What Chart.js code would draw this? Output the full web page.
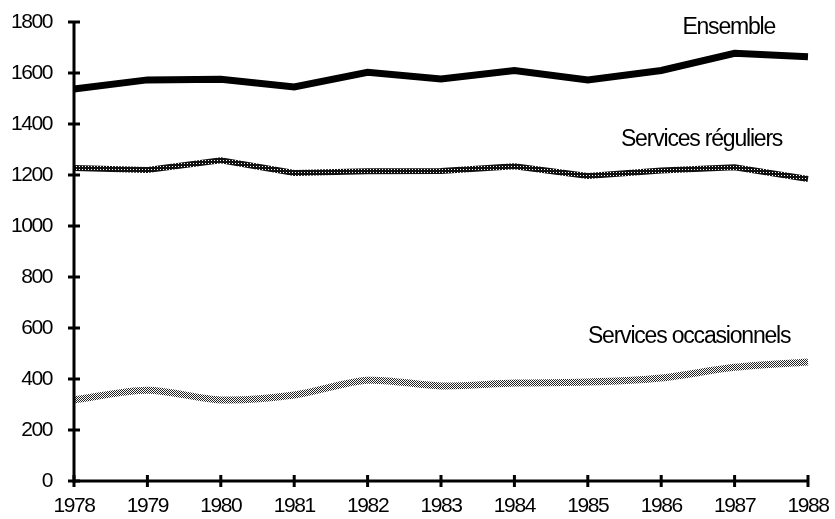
<!DOCTYPE html>
<html>
<head>
<meta charset="utf-8">
<style>
  html, body { margin: 0; padding: 0; background: #fff; }
  #wrap { width: 835px; height: 519px; }
</style>
</head>
<body>
<div id="wrap"><canvas id="chart" width="835" height="519"></canvas></div>
<script src="https://cdn.jsdelivr.net/npm/chart.js@4/dist/chart.umd.min.js"></script>
<script>
const years = ['1978', '1979', '1980', '1981', '1982', '1983', '1984', '1985', '1986', '1987', '1988'];
const ensemble = [1537, 1573, 1575, 1545, 1603, 1577, 1610, 1573, 1610, 1677, 1664];
const reguliers = [1227, 1220, 1258, 1208, 1215, 1216, 1234, 1196, 1218, 1230, 1184];
const occasionnels = [318, 356, 318, 337, 395, 373, 384, 388, 404, 446, 467];
const yTicks = [0, 200, 400, 600, 800, 1000, 1200, 1400, 1600, 1800];

const seriesLabels = [
  { text: 'Ensemble', x: 8.92, y: 1776 },
  { text: 'Services réguliers', x: 8.55, y: 1337 },
  { text: 'Services occasionnels', x: 8.38, y: 565 }
];

const FONT = '"Liberation Sans", Arial, sans-serif';

// hatched strokes like the old print
function makePattern(draw, size) {
  const c = document.createElement('canvas');
  c.width = size; c.height = size;
  const g = c.getContext('2d');
  g.fillStyle = '#fff';
  g.fillRect(0, 0, size, size);
  draw(g);
  return g.createPattern(c, 'repeat');
}
const ringPattern = makePattern(g => {
  g.fillStyle = '#111';
  g.fillRect(0, 0, 3, 1);
  g.fillRect(0, 0, 1, 3);
  g.fillRect(2, 0, 1, 3);
  g.fillRect(0, 2, 3, 1);
}, 3);
const checkPattern = makePattern(g => {
  g.fillStyle = '#222';
  g.fillRect(0, 0, 1, 1);
  g.fillRect(1, 1, 1, 1);
}, 2);

const axisTicks = {
  id: 'axisTicks',
  beforeDraw(chart) {
    // condensed look of the tick numbers
    chart.ctx.letterSpacing = '-1.4px';
  },
  afterDraw(chart) {
    const { ctx, chartArea, scales } = chart;
    ctx.save();
    ctx.strokeStyle = '#000';
    ctx.lineWidth = 3;
    ctx.beginPath();
    ctx.moveTo(chartArea.left, chartArea.top);
    ctx.lineTo(chartArea.left, chartArea.bottom);
    ctx.lineTo(chartArea.right, chartArea.bottom);
    ctx.stroke();
    yTicks.forEach(v => {
      const y = scales.y.getPixelForValue(v);
      ctx.beginPath();
      ctx.moveTo(chartArea.left - 6, y);
      ctx.lineTo(chartArea.left + 6, y);
      ctx.stroke();
    });
    years.forEach((_, i) => {
      const x = scales.x.getPixelForValue(i);
      ctx.beginPath();
      ctx.moveTo(x, chartArea.bottom - 6);
      ctx.lineTo(x, chartArea.bottom + 6);
      ctx.stroke();
    });
    ctx.fillStyle = '#000';
    ctx.font = '23px ' + FONT;
    ctx.letterSpacing = '-1.2px';
    ctx.textAlign = 'center';
    ctx.textBaseline = 'middle';
    seriesLabels.forEach(l => {
      ctx.fillText(l.text, scales.x.getPixelForValue(l.x), scales.y.getPixelForValue(l.y));
    });
    ctx.restore();
    ctx.letterSpacing = '0px';
  }
};

new Chart(document.getElementById('chart'), {
  type: 'line',
  data: {
    labels: years,
    datasets: [
      { label: 'Ensemble', data: ensemble, borderColor: '#000', borderWidth: 7, pointRadius: 0, tension: 0 },
      { label: 'Services réguliers', data: reguliers, borderColor: ringPattern, borderWidth: 6, pointRadius: 0, tension: 0 },
      { label: 'Services occasionnels', data: occasionnels, borderColor: checkPattern, borderWidth: 7, pointRadius: 0, tension: 0.3 }
    ]
  },
  options: {
    responsive: false,
    animation: false,
    layout: { padding: { left: 0, right: 27, top: 22, bottom: 0 } },
    plugins: { legend: { display: false }, tooltip: { enabled: false } },
    scales: {
      x: {
        offset: false,
        grid: { display: false, drawTicks: false },
        border: { display: false },
        ticks: { color: '#000', font: { family: FONT, size: 21 }, padding: 13, maxRotation: 0, autoSkip: false },
        afterFit(scale) {
          scale.height = 38;
          scale.paddingLeft = 0;
          scale.paddingRight = 0;
        }
      },
      y: {
        min: 0,
        max: 1800,
        grid: { display: false, drawTicks: false },
        border: { display: false },
        ticks: {
          stepSize: 200, color: '#000', font: { family: FONT, size: 21 }, padding: 22,
          callback: v => String(v)
        },
        afterFit(scale) {
          scale.width = 74;
          scale.paddingTop = 0;
          scale.paddingBottom = 0;
        }
      }
    }
  },
  plugins: [axisTicks]
});
</script>
</body>
</html>
